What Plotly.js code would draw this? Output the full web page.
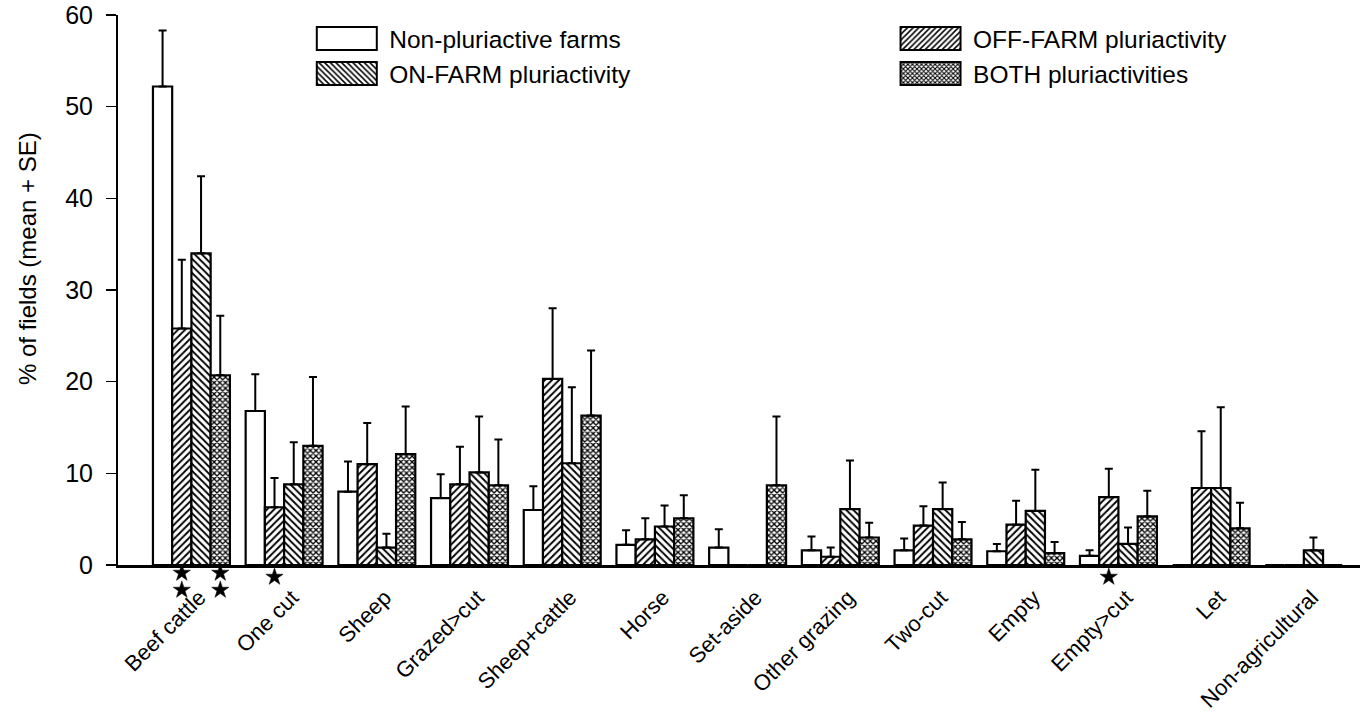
<!DOCTYPE html>
<html><head><meta charset="utf-8">
<script src="https://cdn.plot.ly/plotly-3.0.1.min.js"></script>
<style>html,body{margin:0;padding:0;background:#fff}#chart{width:1360px;height:715px}</style>
</head><body><div id="chart"></div>
<script>
const categories = ['Beef cattle','One cut','Sheep','Grazed>cut','Sheep+cattle','Horse','Set-aside','Other grazing','Two-cut','Empty','Empty>cut','Let','Non-agricultural'];
const seriesNames = ['Non-pluriactive farms','OFF-FARM pluriactivity','ON-FARM pluriactivity','BOTH pluriactivities'];
const nonMean  = [52.2,16.8, 8.0, 7.3, 6.0,2.2,1.9,1.6,1.6,1.5,1.0,0  ,0  ];
const nonSE    = [ 6.1, 4.0, 3.3, 2.6, 2.6,1.6,2.0,1.5,1.3,0.8,0.6,0  ,0  ];
const offMean  = [25.8, 6.3,11.0, 8.8,20.3,2.8,0  ,0.9,4.3,4.4,7.4,8.4,0  ];
const offSE    = [ 7.5, 3.2, 4.5, 4.1, 7.7,2.3,0  ,1.0,2.1,2.6,3.1,6.2,0  ];
const onMean   = [34.0, 8.8, 1.9,10.1,11.1,4.2,0  ,6.1,6.1,5.9,2.3,8.4,1.6];
const onSE     = [ 8.4, 4.6, 1.5, 6.1, 8.3,2.3,0  ,5.3,2.9,4.5,1.8,8.8,1.4];
const bothMean = [20.7,13.0,12.1, 8.7,16.3,5.1,8.7,3.0,2.8,1.3,5.3,4.0,0  ];
const bothSE   = [ 6.5, 7.5, 5.2, 5.0, 7.1,2.5,7.5,1.6,1.9,1.2,2.8,2.8,0  ];
// significance stars: category, series index (0..3), number of stars
const starCats   = ['Beef cattle','Beef cattle','One cut','Empty>cut'];
const starSeries = [1,3,1,1];
const starCounts = [2,2,1,1];

const BARGAP = 0.17;
const XRANGE = [-0.792, 12.606];
const STRIP = 40/590;   // thin strip under the x axis that holds the significance stars
const patterns = [
  {shape:'', fgcolor:'#000', bgcolor:'#fff'},
  {shape:'/', size:5, solidity:0.38, fgcolor:'#000', bgcolor:'#fff', fillmode:'replace'},
  {shape:'\\', size:5, solidity:0.38, fgcolor:'#000', bgcolor:'#fff', fillmode:'replace'},
  {shape:'x', size:4, solidity:0.55, fgcolor:'#000', bgcolor:'#fff', fillmode:'replace'}
];
const means = [nonMean, offMean, onMean, bothMean];
const ses = [nonSE, offSE, onSE, bothSE];
const legends = ['legend','legend2','legend','legend2'];

const traces = means.map((m,i)=>({
  type:'bar', name:seriesNames[i], x:categories, y:m,
  legend:legends[i],
  marker:{color:'#fff', line:{color:'#000', width:2.2}, pattern:patterns[i]},
  error_y:{type:'data', symmetric:false, array:ses[i], arrayminus:m.map(()=>0), color:'#000', thickness:2, width:4},
  hoverinfo:'x+y+name'
}));

// significance stars as markers in the strip subplot (x3/y3)
const w = (1-BARGAP)/4;
const starX = [], starY = [];
starCats.forEach((c,k)=>{
  const xi = categories.indexOf(c) + (starSeries[k]-1.5)*w;
  for(let j=0;j<starCounts[k];j++){
    starX.push(xi);
    starY.push(starCounts[k]===1 ? 0.7 : 0.8 - 0.425*j);
  }
});
traces.push({type:'scatter', mode:'markers', x:starX, y:starY, xaxis:'x3', yaxis:'y3',
  marker:{symbol:'star', size:13, color:'#000', line:{width:0.5, color:'#000'}}, cliponaxis:false,
  showlegend:false, hoverinfo:'skip'});

const font = 'Liberation Sans, Arial, Helvetica, sans-serif';
const layout = {
  width:1360, height:715,
  margin:{l:118, r:0, t:15, b:110},
  paper_bgcolor:'#fff', plot_bgcolor:'rgba(0,0,0,0)',
  font:{family:font, color:'#000'},
  barmode:'group', bargap:BARGAP, bargroupgap:0,
  xaxis:{type:'category', range:XRANGE, anchor:'y', showline:true, linewidth:3, linecolor:'#000',
    ticks:'', tickangle:-45, tickfont:{size:22, family:font}, ticklabelstandoff:8, ticklabelshift:8,
    showgrid:false, zeroline:false, fixedrange:true, automargin:false},
  yaxis:{domain:[STRIP,1], range:[0,60], dtick:10, showline:true, linewidth:2, linecolor:'#000', ticks:'outside', ticklen:10,
    tickwidth:1.5, tickcolor:'#000', tickfont:{size:25, family:font}, ticklabelstandoff:8,
    showgrid:false, zeroline:false, fixedrange:true, automargin:false},
  xaxis3:{type:'linear', range:XRANGE, anchor:'y3', visible:false, fixedrange:true},
  yaxis3:{domain:[0,STRIP], range:[0,1], anchor:'x3', visible:false, fixedrange:true},
  legend:{x:0.150, y:0.998, xanchor:'left', yanchor:'top', font:{size:24.5, family:font}, itemwidth:75,
    bgcolor:'rgba(0,0,0,0)', traceorder:'normal', tracegroupgap:0},
  legend2:{x:0.620, y:0.998, xanchor:'left', yanchor:'top', font:{size:24.5, family:font}, itemwidth:75,
    bgcolor:'rgba(0,0,0,0)', traceorder:'normal', tracegroupgap:0},
  annotations:[{text:'% of fields (mean + SE)', xref:'paper', yref:'paper', x:-0.0733, y:0.588,
    textangle:-90, showarrow:false, xanchor:'center', yanchor:'middle', font:{size:24, family:font, color:'#000'}}],
  showlegend:true
};

function fixLegend(){
  document.querySelectorAll('#chart .legendpoints path').forEach(p=>{
    p.setAttribute('d','M30,11.5H-30V-11.5H30Z');
    p.style.strokeWidth = '2px';
    p.style.stroke = '#000';
  });
}
Plotly.newPlot('chart', traces, layout, {displayModeBar:false, staticPlot:true}).then(gd=>{
  fixLegend();
  gd.on && gd.on('plotly_afterplot', fixLegend);
  setTimeout(fixLegend, 50);
  setTimeout(fixLegend, 300);
});
</script></body></html>
